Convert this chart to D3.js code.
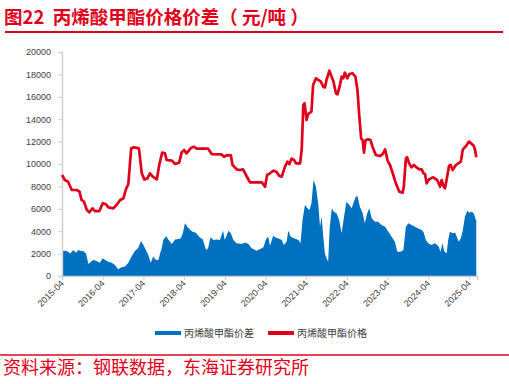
<!DOCTYPE html>
<html><head><meta charset="utf-8">
<script src="https://cdn.jsdelivr.net/npm/d3@7"></script>
<style>
html,body{margin:0;padding:0;background:#fff;}
svg{display:block;}
</style></head>
<body>
<svg id="chart" width="509" height="384"></svg>
<script>
// ---- data (decimal years) ----
const priceT = [2015.25,2015.32,2015.40,2015.49,2015.61,2015.68,2015.73,2015.79,2015.86,2015.92,2016.00,2016.06,2016.17,2016.25,2016.33,2016.39,2016.51,2016.59,2016.68,2016.76,2016.82,2016.88,2016.95,2017.02,2017.14,2017.21,2017.27,2017.35,2017.41,2017.48,2017.58,2017.64,2017.71,2017.78,2017.82,2017.95,2018.03,2018.13,2018.19,2018.25,2018.31,2018.41,2018.49,2018.56,2018.84,2018.93,2019.17,2019.23,2019.30,2019.40,2019.44,2019.54,2019.62,2019.70,2019.77,2019.87,2020.16,2020.24,2020.29,2020.36,2020.44,2020.52,2020.59,2020.65,2020.73,2020.79,2020.84,2020.89,2020.95,2021.00,2021.10,2021.14,2021.18,2021.21,2021.26,2021.30,2021.38,2021.42,2021.49,2021.55,2021.61,2021.67,2021.71,2021.75,2021.82,2021.88,2021.92,2021.98,2022.02,2022.08,2022.12,2022.16,2022.20,2022.26,2022.31,2022.39,2022.46,2022.51,2022.55,2022.60,2022.64,2022.67,2022.71,2022.78,2022.83,2022.88,2022.96,2023.06,2023.13,2023.19,2023.25,2023.31,2023.39,2023.46,2023.54,2023.62,2023.65,2023.70,2023.73,2023.78,2023.84,2023.90,2023.96,2024.03,2024.09,2024.13,2024.17,2024.21,2024.27,2024.36,2024.41,2024.47,2024.54,2024.58,2024.62,2024.66,2024.70,2024.76,2024.80,2024.85,2024.91,2024.96,2025.05,2025.10,2025.18,2025.25,2025.32,2025.37,2025.40,2025.43];
const priceV = [9020,8570,8420,7680,7680,7530,6790,6640,5890,5690,6040,5800,5800,6490,6400,6130,6040,6340,6790,6940,7740,8210,11400,11490,11400,9170,8630,8720,9170,8870,8630,9910,11010,10950,10360,10300,10000,10120,11040,11250,10950,11400,11550,11370,11370,10890,10860,10650,10800,10770,9910,9520,9460,9520,9020,8360,8360,7970,9020,9170,9400,9310,8930,8870,9760,10210,9990,10480,10360,10060,10060,11250,15270,15420,13930,14470,14670,17050,17650,17500,17360,16900,16840,17500,18330,17740,17360,16310,16220,17050,17800,17650,18150,17650,18040,18100,17800,16610,14530,12300,12090,11010,12140,12200,12140,11550,10800,10710,10890,11310,10300,9910,9020,8210,7530,7440,7980,10510,10600,10060,9700,9910,9700,9520,9520,9170,9110,8270,8630,8810,8720,8570,7970,8570,8060,7830,8570,9820,9910,9460,9820,9990,10210,11310,11610,12000,11790,11610,11250,10600];
const spreadT = [2015.25,2015.37,2015.45,2015.53,2015.59,2015.65,2015.71,2015.77,2015.84,2015.90,2015.96,2016.02,2016.10,2016.18,2016.25,2016.31,2016.39,2016.47,2016.55,2016.63,2016.72,2016.80,2016.88,2016.96,2017.04,2017.12,2017.19,2017.25,2017.31,2017.37,2017.43,2017.49,2017.56,2017.62,2017.66,2017.70,2017.74,2017.81,2017.86,2017.95,2018.03,2018.11,2018.17,2018.22,2018.27,2018.33,2018.40,2018.46,2018.54,2018.62,2018.71,2018.79,2018.84,2018.90,2018.97,2019.05,2019.13,2019.21,2019.25,2019.34,2019.40,2019.46,2019.54,2019.67,2019.75,2019.83,2019.91,2020.03,2020.11,2020.20,2020.26,2020.32,2020.36,2020.44,2020.52,2020.56,2020.65,2020.70,2020.77,2020.81,2020.87,2020.95,2021.06,2021.11,2021.16,2021.22,2021.28,2021.33,2021.38,2021.43,2021.49,2021.55,2021.59,2021.63,2021.67,2021.71,2021.75,2021.79,2021.83,2021.88,2021.93,2022.00,2022.06,2022.12,2022.18,2022.24,2022.31,2022.37,2022.42,2022.47,2022.51,2022.57,2022.64,2022.69,2022.75,2022.80,2022.86,2022.94,2023.02,2023.10,2023.19,2023.27,2023.35,2023.43,2023.49,2023.57,2023.64,2023.70,2023.76,2023.84,2023.92,2024.00,2024.09,2024.14,2024.19,2024.25,2024.33,2024.41,2024.50,2024.55,2024.60,2024.64,2024.70,2024.74,2024.78,2024.85,2024.91,2024.95,2025.00,2025.05,2025.10,2025.15,2025.21,2025.26,2025.32,2025.37,2025.42,2025.43];
const spreadV = [2260,2230,2020,2320,2080,2320,2230,2230,2020,1070,1280,1430,1340,1190,1580,1430,1280,1190,980,600,780,840,1190,1730,2230,2470,3130,2770,2320,1880,1190,1730,1430,1430,2020,2470,3210,3570,3270,2860,3270,3300,3360,3810,4700,4400,4100,3960,3870,3510,3270,2320,2470,3450,3210,3270,3210,4040,3210,4040,3810,3210,2920,2860,2980,2860,2470,2260,2380,2560,3270,3510,2700,3600,3400,3360,3210,2770,3060,4040,3510,3360,3210,2920,5000,6340,6040,5890,6490,8570,7980,6340,4400,5300,3510,2020,1580,1280,4400,6040,5740,5590,5000,3810,5300,6640,6340,6040,6640,7080,7140,6190,5590,4700,5590,6040,5150,4850,4850,4550,4400,3960,3510,3060,2170,2170,2320,4400,4700,4550,4400,4250,4100,3870,3210,2920,2770,2920,2680,2170,2920,2230,2020,3210,3960,3810,3870,3510,3060,3360,4100,5300,5820,5650,5740,5590,5000,5000];
const xTickValues = [2015.25,2016.25,2017.25,2018.25,2019.25,2020.25,2021.25,2022.25,2023.25,2024.25,2025.25];
const xTickLabels = ["2015-04","2016-04","2017-04","2018-04","2019-04","2020-04","2021-04","2022-04","2023-04","2024-04","2025-04"];
const yTicks = [0,2000,4000,6000,8000,10000,12000,14000,16000,18000,20000];
const seriesNames = ["丙烯酸甲酯价差","丙烯酸甲酯价格"];
const titleText = "图22  丙烯酸甲酯价格价差（ 元/吨 ）";
const sourceText = "资料来源：钢联数据，东海证券研究所";

// ---- drawing ----
const RED = "#e0001b", BLUE = "#0070c0", AXIS = "#d0d0d0", TXT = "#404040";
const svg = d3.select("#chart");
const x = d3.scaleLinear().domain([2015.25, 2025.45]).range([62, 477.1]);
const y = d3.scaleLinear().domain([0, 20000]).range([276, 52]);

// title
svg.append("text").attr("x", 4).attr("y", 24)
  .style("white-space", "pre")
  .attr("font-family", "'Noto Sans CJK SC', sans-serif").attr("font-weight", "bold")
  .attr("font-size", 18.5).attr("fill", RED).text(titleText);
svg.append("line").attr("x1", 5).attr("x2", 503).attr("y1", 32).attr("y2", 32)
  .attr("stroke", RED).attr("stroke-width", 2);

// spread area
const spread = spreadT.map((t, i) => ({t, v: spreadV[i]}));
const price = priceT.map((t, i) => ({t, v: priceV[i]}));
svg.append("path").datum(spread)
  .attr("d", d3.area().x(d => x(d.t)).y0(y(0)).y1(d => y(d.v)))
  .attr("fill", BLUE);

// axes
const yAxis = svg.append("g").attr("transform", "translate(62,0)")
  .call(d3.axisLeft(y).tickValues(yTicks).tickSize(4).tickPadding(7).tickFormat(d3.format("d")));
yAxis.select(".domain").attr("stroke", AXIS).attr("stroke-width", 1.5);
yAxis.selectAll(".tick line").attr("stroke", AXIS);
yAxis.selectAll("text").attr("font-family", "'Liberation Sans', Arial, sans-serif")
  .attr("font-size", 9).attr("fill", TXT);

const xAxis = svg.append("g").attr("transform", "translate(0,276)")
  .call(d3.axisBottom(x).tickValues(xTickValues).tickSize(4)
    .tickFormat((d, i) => xTickLabels[i]));
xAxis.select(".domain").attr("stroke", AXIS).attr("stroke-width", 1.5);
xAxis.selectAll(".tick line").attr("stroke", AXIS);
xAxis.selectAll("text").attr("font-family", "'Liberation Sans', Arial, sans-serif")
  .attr("font-size", 9).attr("fill", TXT)
  .attr("text-anchor", "end").attr("dy", 0).attr("y", 0)
  .attr("transform", "translate(2,8) rotate(-45)");

// price line
svg.append("path").datum(price)
  .attr("d", d3.line().x(d => x(d.t)).y(d => y(d.v)))
  .attr("fill", "none").attr("stroke", RED).attr("stroke-width", 2.7)
  .attr("stroke-linejoin", "round");

// legend
const leg = [{name: seriesNames[0], color: BLUE, x: 155}, {name: seriesNames[1], color: RED, x: 268}];
leg.forEach(l => {
  svg.append("line").attr("x1", l.x).attr("x2", l.x + 26).attr("y1", 333).attr("y2", 333)
    .attr("stroke", l.color).attr("stroke-width", 4);
  svg.append("text").attr("x", l.x + 29).attr("y", 337)
    .attr("font-family", "'Noto Sans CJK SC', sans-serif").attr("font-size", 10)
    .attr("fill", TXT).text(l.name);
});

// source
svg.append("line").attr("x1", 0).attr("x2", 509).attr("y1", 355).attr("y2", 355)
  .attr("stroke", RED).attr("stroke-width", 1.5);
svg.append("text").attr("x", 3).attr("y", 374)
  .attr("font-family", "'Noto Sans CJK SC', sans-serif").attr("font-size", 18)
  .attr("fill", RED).text(sourceText);
</script>
</body></html>
